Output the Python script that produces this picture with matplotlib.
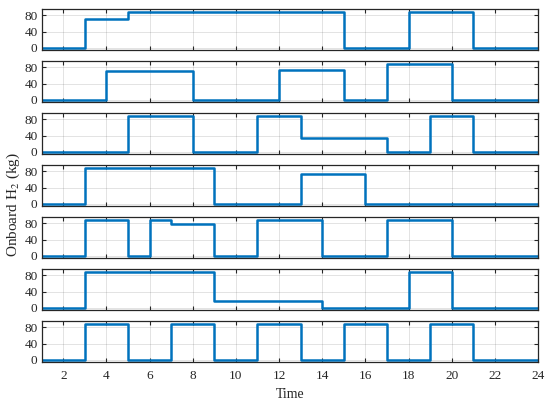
import numpy as np
import matplotlib
matplotlib.use('Agg')
import matplotlib.pyplot as plt

# hourly onboard H2 per vehicle (value held from hour t to t+1)
hours = np.arange(1, 25)

def blocks(spec):
    # spec: list of (start, end, value); zero elsewhere
    v = np.zeros(len(hours))
    for a, b, val in spec:
        v[(hours >= a) & (hours < b)] = val
    return v

truck1 = blocks([(3, 5, 70), (5, 15, 88), (18, 21, 88)])
truck2 = blocks([(4, 8, 70), (12, 15, 72), (17, 20, 88)])
truck3 = blocks([(5, 8, 88), (11, 13, 88), (13, 17, 35), (19, 21, 88)])
truck4 = blocks([(3, 9, 88), (13, 16, 72)])
truck5 = blocks([(3, 5, 88), (6, 7, 88), (7, 9, 77), (11, 14, 88), (17, 20, 88)])
truck6 = blocks([(3, 9, 88), (9, 14, 18), (18, 20, 88)])
truck7 = blocks([(3, 5, 88), (7, 9, 88), (11, 13, 88), (15, 17, 88), (19, 21, 88)])
series = [truck1, truck2, truck3, truck4, truck5, truck6, truck7]

xticks = np.arange(2, 25, 2)
yticks = [0, 40, 80]

plt.rcParams['font.family'] = ['Liberation Serif', 'DejaVu Serif']
plt.rcParams['mathtext.fontset'] = 'stix'
plt.rcParams['font.size'] = 9.5

axis_col = '#262626'
line_col = '#0072BD'

fig = plt.figure(figsize=(5.5, 4.08), dpi=100)
W, H = 550.0, 408.0
left, right = 41.7, 538.0
axes = []
for i, y in enumerate(series):
    top_px = 9 + 52 * i
    bot_px = top_px + 41
    ax = fig.add_axes([left / W, 1 - bot_px / H, (right - left) / W, 41 / H])
    ax.step(hours, y, where='post', color=line_col, linewidth=1.8)
    ax.set_xlim(1, 24)
    ax.set_ylim(-5, 95)
    ax.set_xticks(xticks)
    ax.set_yticks(yticks)
    ax.grid(True, color=axis_col, alpha=0.15, linewidth=0.6)
    ax.tick_params(direction='in', top=True, right=True, length=3,
                   width=0.8, color=axis_col, labelcolor=axis_col)
    ax.tick_params(axis='y', pad=3)
    ax.tick_params(axis='x', pad=6)
    for s in ax.spines.values():
        s.set_color(axis_col)
        s.set_linewidth(0.9)
    if i < len(series) - 1:
        ax.set_xticklabels([])
    axes.append(ax)

axes[-1].set_xlabel('Time', color=axis_col, labelpad=4, fontsize=10)
fig.text(0.024, 0.5, 'Onboard H$_2$ (kg)', rotation=90, ha='center', va='center',
         color=axis_col, fontsize=11)

plt.savefig('out.png', dpi=100)
